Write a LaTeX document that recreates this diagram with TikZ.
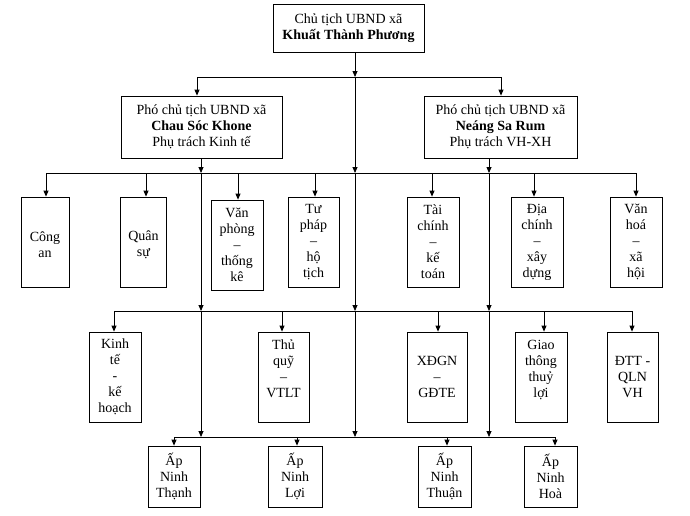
\documentclass[tikz,border=0pt]{standalone}
\usepackage{fontspec}
\setmainfont{Liberation Serif}
\usetikzlibrary{arrows.meta}
\tikzset{
  orgbox/.style={draw, line width=0.8pt, inner sep=0pt, align=center,
    font=\fontsize{14}{16}\selectfont},
  conn/.style={line width=0.8pt},
  arr/.style={line width=0.8pt, -{Triangle[length=6pt,width=5pt]}}
}
\begin{document}
\begin{tikzpicture}[x=1pt,y=-1pt]
\useasboundingbox (0,0) rectangle (690,515);
% top level
\node[orgbox, minimum width=151pt, minimum height=48pt] (top) at (348.5,28)
  {Chủ tịch UBND xã\\\textbf{Khuất Thành Phương}};
\node[orgbox, minimum width=161pt, minimum height=62pt] (pl) at (201.5,127)
  {Phó chủ tịch UBND xã\\\textbf{Chau Sóc Khone}\\Phụ trách Kinh tế};
\node[orgbox, minimum width=153pt, minimum height=62pt] (pr) at (500.5,127)
  {Phó chủ tịch UBND xã\\\textbf{Neáng Sa Rum}\\Phụ trách VH-XH};
% row 2
\node[orgbox, minimum width=48pt, minimum height=90pt] (ca) at (45,242) {\mbox{}\\Công\\an};
\node[orgbox, minimum width=46pt, minimum height=90pt] (qs) at (143.5,242) {\mbox{}\\Quân\\sự};
\node[orgbox, minimum width=52pt, minimum height=90pt] (vp) at (237,245) {Văn\\phòng\\–\\thống\\kê};
\node[orgbox, minimum width=51pt, minimum height=90pt] (tp) at (313.5,242) {Tư\\pháp\\–\\hộ\\tịch};
\node[orgbox, minimum width=52pt, minimum height=90pt] (tc) at (433,242) {Tài\\chính\\–\\kế\\toán};
\node[orgbox, minimum width=52pt, minimum height=90pt] (dc) at (537,242) {Địa\\chính\\–\\xây\\dựng};
\node[orgbox, minimum width=52pt, minimum height=90pt] (vh) at (636,242) {Văn\\hoá\\–\\xã\\hội};
% row 3
\node[orgbox, minimum width=52pt, minimum height=90pt] (kt) at (115,377) {Kinh\\tế\\-\\kế\\hoạch};
\node[orgbox, minimum width=51pt, minimum height=90pt] (tq) at (283.5,377) {Thủ\\quỹ\\–\\VTLT\\\mbox{}};
\node[orgbox, minimum width=60pt, minimum height=90pt] (xd) at (437,377) {XĐGN\\–\\GĐTE};
\node[orgbox, minimum width=52pt, minimum height=90pt] (gt) at (541,377) {Giao\\thông\\thuỷ\\lợi\\\mbox{}};
\node[orgbox, minimum width=51pt, minimum height=90pt] (dt) at (632.5,377) {ĐTT -\\QLN\\VH};
% row 4
\node[orgbox, minimum width=52pt, minimum height=61pt] (a1) at (174,476.5) {Ấp\\Ninh\\Thạnh};
\node[orgbox, minimum width=54pt, minimum height=61pt] (a2) at (295,476.5) {Ấp\\Ninh\\Lợi};
\node[orgbox, minimum width=53pt, minimum height=61pt] (a3) at (444.5,476.5) {Ấp\\Ninh\\Thuận};
\node[orgbox, minimum width=53pt, minimum height=61pt] (a4) at (550.5,476.5) {Ấp\\Ninh\\Hoà};
% coordinates
\coordinate (tb) at (355,77);
\coordinate (b1l) at (197,77);
\coordinate (b1r) at (501,77);
\coordinate (l2) at (201,173); \coordinate (l3) at (201,311); \coordinate (l4) at (201,437);
\coordinate (c2) at (355,173); \coordinate (c3) at (355,311); \coordinate (c4) at (355,437);
\coordinate (r2) at (489,173); \coordinate (r3) at (489,311); \coordinate (r4) at (489,437);
% row 2 drop points
\coordinate (k1) at (46,173); \coordinate (k2) at (146,173); \coordinate (k3) at (238,173);
\coordinate (k4) at (315,173); \coordinate (k5) at (432,173); \coordinate (k6) at (534,173);
\coordinate (k7) at (636,173);
% row 3 drop points
\coordinate (m1) at (114,311); \coordinate (m2) at (282,311); \coordinate (m3) at (438,311);
\coordinate (m4) at (544,311); \coordinate (m5) at (632,311);
% row 4 drop points
\coordinate (n1) at (174,437); \coordinate (n2) at (297,437); \coordinate (n3) at (447,437);
\coordinate (n4) at (555,437);
% top connectors
\draw[arr] (top.south -| tb) -- (tb);
\draw[conn] (b1l) -- (b1r);
\draw[arr] (b1l) -- (b1l |- pl.north);
\draw[arr] (b1r) -- (b1r |- pr.north);
% trunks
\draw[arr] (tb) -- (c2);
\draw[arr] (c2) -- (c3);
\draw[arr] (c3) -- (c4);
\draw[arr] (pl.south -| l2) -- (l2);
\draw[arr] (l2) -- (l3);
\draw[arr] (l3) -- (l4);
\draw[arr] (pr.south -| r2) -- (r2);
\draw[arr] (r2) -- (r3);
\draw[arr] (r3) -- (r4);
% buses
\draw[conn] (k1) -- (k7);
\draw[conn] (m1) -- (m5);
\draw[conn] (n1) -- (n4);
% drops row 2
\draw[arr] (k1) -- (k1 |- ca.north);
\draw[arr] (k2) -- (k2 |- qs.north);
\draw[arr] (k3) -- (k3 |- vp.north);
\draw[arr] (k4) -- (k4 |- tp.north);
\draw[arr] (k5) -- (k5 |- tc.north);
\draw[arr] (k6) -- (k6 |- dc.north);
\draw[arr] (k7) -- (k7 |- vh.north);
% drops row 3
\draw[arr] (m1) -- (m1 |- kt.north);
\draw[arr] (m2) -- (m2 |- tq.north);
\draw[arr] (m3) -- (m3 |- xd.north);
\draw[arr] (m4) -- (m4 |- gt.north);
\draw[arr] (m5) -- (m5 |- dt.north);
% drops row 4
\draw[arr] (n1) -- (n1 |- a1.north);
\draw[arr] (n2) -- (n2 |- a2.north);
\draw[arr] (n3) -- (n3 |- a3.north);
\draw[arr] (n4) -- (n4 |- a4.north);
\end{tikzpicture}
\end{document}
